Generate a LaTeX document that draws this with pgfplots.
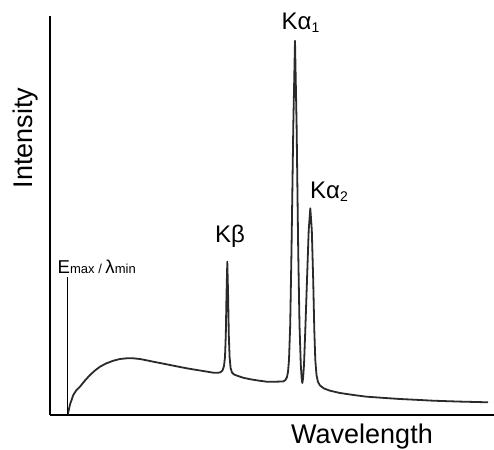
\documentclass[border=0pt]{standalone}
\usepackage{pgfplots}
\pgfplotsset{compat=1.18}
\usepackage{fontspec}
\setmainfont{Liberation Sans}
\definecolor{curve}{HTML}{2A2A2A}
\newcommand{\sub}[1]{\raisebox{-3bp}{\fontsize{14bp}{14bp}\selectfont #1}}
\begin{document}
\begin{tikzpicture}
\useasboundingbox (-50bp,-35bp) rectangle (444bp,415bp);
\begin{axis}[
  scale only axis, width=444bp, height=399bp,
  xmin=50, xmax=494, ymin=0, ymax=399,
  axis x line=bottom, axis y line=left,
  axis line style={-, line width=2bp, black},
  xtick=\empty, ytick=\empty,
  clip=false,
]
\addplot[curve, line width=1.8bp, line join=round] coordinates {
(67.7,0) (69,6) (70,10.5) (73.3,20) (76.5,25) (80,28.3) (85,34.5) (90,40)
(95,44.5) (100,48.3) (106,51.5) (113.3,54.3) (120,56) (126.7,56.7) (133,56.7)
(140,56) (146,54.8) (153.3,53.3) (165,51) (176,48.8) (186.7,46.7) (200,44.5)
(213.3,42.3) (218,42.2) (220.5,42.8) (222.5,44.5) (224,49) (225,58) (225.8,80)
(226.5,120) (227.3,153.3) (228.1,120) (228.8,80) (229.6,58) (230.6,47) (232,42.5)
(234,40.5) (238,39) (243,37.3) (250,35.8) (258,34.5) (266.7,33.3) (275,33.3)
(283,33.5) (285.5,35) (287,38) (288,43) (289,55) (290.2,90) (291.5,165)
(293.3,290) (295,374.3) (296.6,290) (298.2,165) (299.5,90) (300.8,50) (301.7,36)
(302.3,32) (303,36) (304,50) (305.3,85) (307,135) (308.7,185) (310.3,206.7)
(311.8,185) (313.2,135) (314.3,85) (315.3,55) (316.5,40) (318,33) (320,29.5)
(324,26.5) (330,24.3) (340,22) (355,19.8) (366.7,18.3) (385,17) (400,16)
(420,15) (433,14.3) (460,13.4) (488,12.7)
};
\addplot[black, line width=0.8bp] coordinates {(67.7,0) (67.7,138)};
\node[anchor=base, rotate=90, inner sep=0pt, font=\fontsize{27bp}{30bp}\selectfont] at (axis cs:32.3,277) {Intensity};
\node[anchor=base, inner sep=0pt, font=\fontsize{27bp}{30bp}\selectfont] at (axis cs:362,-28.5) {Wavelength};
\node[anchor=base west, inner sep=0pt, font=\fontsize{24bp}{28bp}\selectfont] at (axis cs:281.5,385) {Kα\sub{1}};
\node[anchor=base west, inner sep=0pt, font=\fontsize{24bp}{28bp}\selectfont] at (axis cs:310,216) {Kα\sub{2}};
\node[anchor=base west, inner sep=0pt, font=\fontsize{24bp}{28bp}\selectfont] at (axis cs:215,172) {Kβ};
\node[anchor=base west, inner sep=0pt, font=\fontsize{18.6bp}{20bp}\selectfont] at (axis cs:57.5,141.7) {E{\fontsize{13bp}{14bp}\selectfont max / }λ{\fontsize{13bp}{14bp}\selectfont min}};
\end{axis}
\end{tikzpicture}
\end{document}
